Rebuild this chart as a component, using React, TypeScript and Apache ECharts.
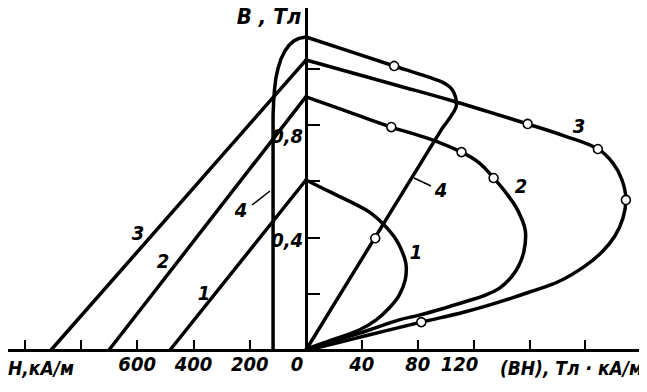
import React, { useEffect, useRef } from "react";
import * as echarts from "echarts";

// ---- Left quadrant: demagnetization curves, points [H (kA/m), B (T)] ----
const demag1 = [[483, 0], [0, 0.604]];
const demag2 = [[700, 0], [0, 0.9]];
const demag3 = [[906, 0], [0, 1.03]];
const demag4 = [
  [0, 1.112], [25, 1.107], [43, 1.098], [60, 1.083], [75, 1.062], [89, 1.034],
  [99, 1.002], [107, 0.966], [112, 0.924], [115, 0.881], [117, 0.835], [117, 0],
];

// ---- Right quadrant: energy product curves, points [BH (Тл·кА/м), B (T)] ----
const energy1 = [
  [0, 0.604], [18.7, 0.558], [43.1, 0.497], [54.6, 0.451], [64.7, 0.391],
  [70.4, 0.33], [71.9, 0.291], [71.1, 0.249], [66.8, 0.195], [59.6, 0.149],
  [50.3, 0.107], [38.1, 0.071], [18.7, 0.036], [2.2, 0.007], [0, 0],
];
const energy2 = [
  [0, 0.899], [30.9, 0.845], [61.1, 0.792], [88.4, 0.75], [111.4, 0.703],
  [124.3, 0.664], [134.4, 0.611], [144.4, 0.551], [152.3, 0.49], [157.4, 0.408],
  [156.0, 0.348], [152.3, 0.298], [146.6, 0.256], [138.7, 0.220], [128.6, 0.195],
  [115.7, 0.174], [99.2, 0.149], [81.2, 0.124], [66.8, 0.107], [45.3, 0.071],
  [23.7, 0.037], [9.3, 0.015], [0, 0],
];
const energy3 = [
  [0, 1.03], [66.8, 0.938], [102.8, 0.888], [131.5, 0.845], [158.8, 0.803],
  [185.4, 0.76], [209.1, 0.714], [219.9, 0.664], [226.4, 0.604], [229.2, 0.533],
  [227.1, 0.469], [221.3, 0.405], [212.0, 0.348], [199.8, 0.298], [181.8, 0.245],
  [160.2, 0.206], [138.7, 0.171], [113.5, 0.135], [82.6, 0.099], [56.1, 0.067],
  [30.9, 0.036], [12.9, 0.014], [0, 0],
];
const energy4 = [
  [0, 1.112], [63.2, 1.009], [95.6, 0.956], [101.3, 0.941], [104.9, 0.924],
  [107.1, 0.899], [107.8, 0.87], [97.0, 0.783], [59.3, 0.479], [0, 0],
];

// open circles on the energy curves
const markers = [
  [63.2, 1.009], [49.6, 0.397],
  [61.1, 0.792], [111.4, 0.703], [134.4, 0.611],
  [158.8, 0.803], [209.1, 0.714], [229.2, 0.533], [82.6, 0.099],
];

// axes
const hMax = 1066;
const bhMax = 240;
const bMax = 1.2327;
const hTickValues = [200, 400, 600, 800, 1000];
const hLabelValues = [0, 200, 400, 600];
const bhTickValues = [40, 80, 120, 160, 200, 240];
const bhLabelValues = [40, 80, 120];
const bTickValues = [0.2, 0.4, 0.6, 0.8, 1.0];
const bLabelValues = [0.4, 0.8];

const FONT = '"Liberation Sans Narrow", "DejaVu Sans Condensed", sans-serif';
const fontCss = (size: number) => `italic bold ${size}px ${FONT}`;

const txt = (text: string, x: number, y: number, size = 20, align = "center") => ({
  type: "text",
  x,
  y,
  silent: true,
  style: {
    text,
    font: fontCss(size),
    fill: "#000",
    align,
    textAlign: align,
    verticalAlign: "middle",
    textVerticalAlign: "middle",
  },
});

const seg = (x1: number, y1: number, x2: number, y2: number) => ({
  type: "line",
  silent: true,
  shape: { x1, y1, x2, y2 },
  style: { stroke: "#000", lineWidth: 1.5 },
});

export default function App() {
  const ref = useRef<HTMLDivElement>(null);

  useEffect(() => {
    if (!ref.current) return;
    const chart = echarts.init(ref.current, null, { renderer: "svg" });
    const labelFont = {
      fontFamily: FONT,
      fontSize: 20,
      fontStyle: "italic" as const,
      fontWeight: "bold" as const,
      color: "#000",
    };
    const curve = (data: number[][], axis: number, smooth: number | boolean) => ({
      type: "line",
      xAxisIndex: axis,
      yAxisIndex: axis,
      data,
      showSymbol: false,
      smooth,
      silent: true,
      lineStyle: { color: "#000", width: 3.5, cap: "round", join: "round" },
      z: 3,
    });
    chart.setOption({
      animation: false,
      backgroundColor: "#fff",
      grid: [
        { left: 6, width: 300, top: 3, bottom: 42 },
        { left: 306, width: 335, top: 3, bottom: 42 },
      ],
      xAxis: [
        {
          gridIndex: 0,
          type: "value",
          inverse: true,
          min: 0,
          max: hMax,
          axisLine: { show: true, onZero: false, lineStyle: { color: "#000", width: 3 } },
          axisTick: {
            show: true,
            inside: true,
            length: 10,
            customValues: hTickValues,
            lineStyle: { color: "#000", width: 2 },
          },
          axisLabel: {
            show: true,
            customValues: hLabelValues,
            margin: 4,
            ...labelFont,
            formatter: (v: number) => (v === 0 ? "{z|0}" : String(v)),
            rich: { z: { ...labelFont, padding: [0, 18, 0, 0] } },
          },
          splitLine: { show: false },
        },
        {
          gridIndex: 1,
          type: "value",
          min: 0,
          max: bhMax,
          axisLine: { show: true, onZero: false, lineStyle: { color: "#000", width: 3 } },
          axisTick: {
            show: true,
            inside: true,
            length: 10,
            customValues: bhTickValues,
            lineStyle: { color: "#000", width: 2 },
          },
          axisLabel: {
            show: true,
            customValues: bhLabelValues,
            margin: 4,
            ...labelFont,
            formatter: (v: number) => (v === 120 ? "{s|120}" : String(v)),
            rich: { s: { ...labelFont, padding: [0, 28, 0, 0] } },
          },
          splitLine: { show: false },
        },
      ],
      yAxis: [
        { gridIndex: 0, type: "value", min: 0, max: bMax, show: false },
        {
          gridIndex: 1,
          type: "value",
          min: 0,
          max: bMax,
          position: "left",
          axisLine: { show: true, onZero: false, lineStyle: { color: "#000", width: 3 } },
          axisTick: {
            show: true,
            inside: true,
            length: 14,
            customValues: bTickValues,
            lineStyle: { color: "#000", width: 2 },
          },
          axisLabel: {
            show: true,
            customValues: bLabelValues,
            margin: 3,
            ...labelFont,
            formatter: (v: number) => (v > 0.6 ? "{a|0,8}" : "{b|0,4}"),
            rich: {
              a: { ...labelFont, padding: [22, 0, 0, 0] },
              b: { ...labelFont, padding: [6, 0, 0, 0] },
            },
          },
          splitLine: { show: false },
        },
      ],
      series: [
        curve(demag1, 0, false),
        curve(demag2, 0, false),
        curve(demag3, 0, false),
        curve(demag4, 0, false),
        curve(energy1, 1, 0.4),
        curve(energy2, 1, 0.4),
        curve(energy3, 1, 0.4),
        curve(energy4, 1, 0.25),
        {
          type: "scatter",
          xAxisIndex: 1,
          yAxisIndex: 1,
          data: markers,
          symbol: "circle",
          symbolSize: 9,
          silent: true,
          itemStyle: { color: "#fff", borderColor: "#000", borderWidth: 1.6, opacity: 1 },
          z: 5,
        },
      ],
      graphic: [
        txt("В , Тл", 269, 16, 22),
        txt("H,кА/м", 8, 368, 19, "left"),
        txt("(ВН), Тл · кА/м", 643, 368, 19, "right"),
        txt("3", 138, 233),
        txt("2", 163, 261),
        txt("1", 204, 293),
        txt("4", 241, 210),
        seg(252, 205, 270, 191),
        txt("1", 416, 252),
        txt("2", 521, 186),
        txt("3", 579, 126),
        txt("4", 441, 190),
        seg(414, 178, 431, 186),
      ],
    });
    return () => chart.dispose();
  }, []);

  return <div ref={ref} style={{ width: 647, height: 392, margin: -8 }} />;
}
